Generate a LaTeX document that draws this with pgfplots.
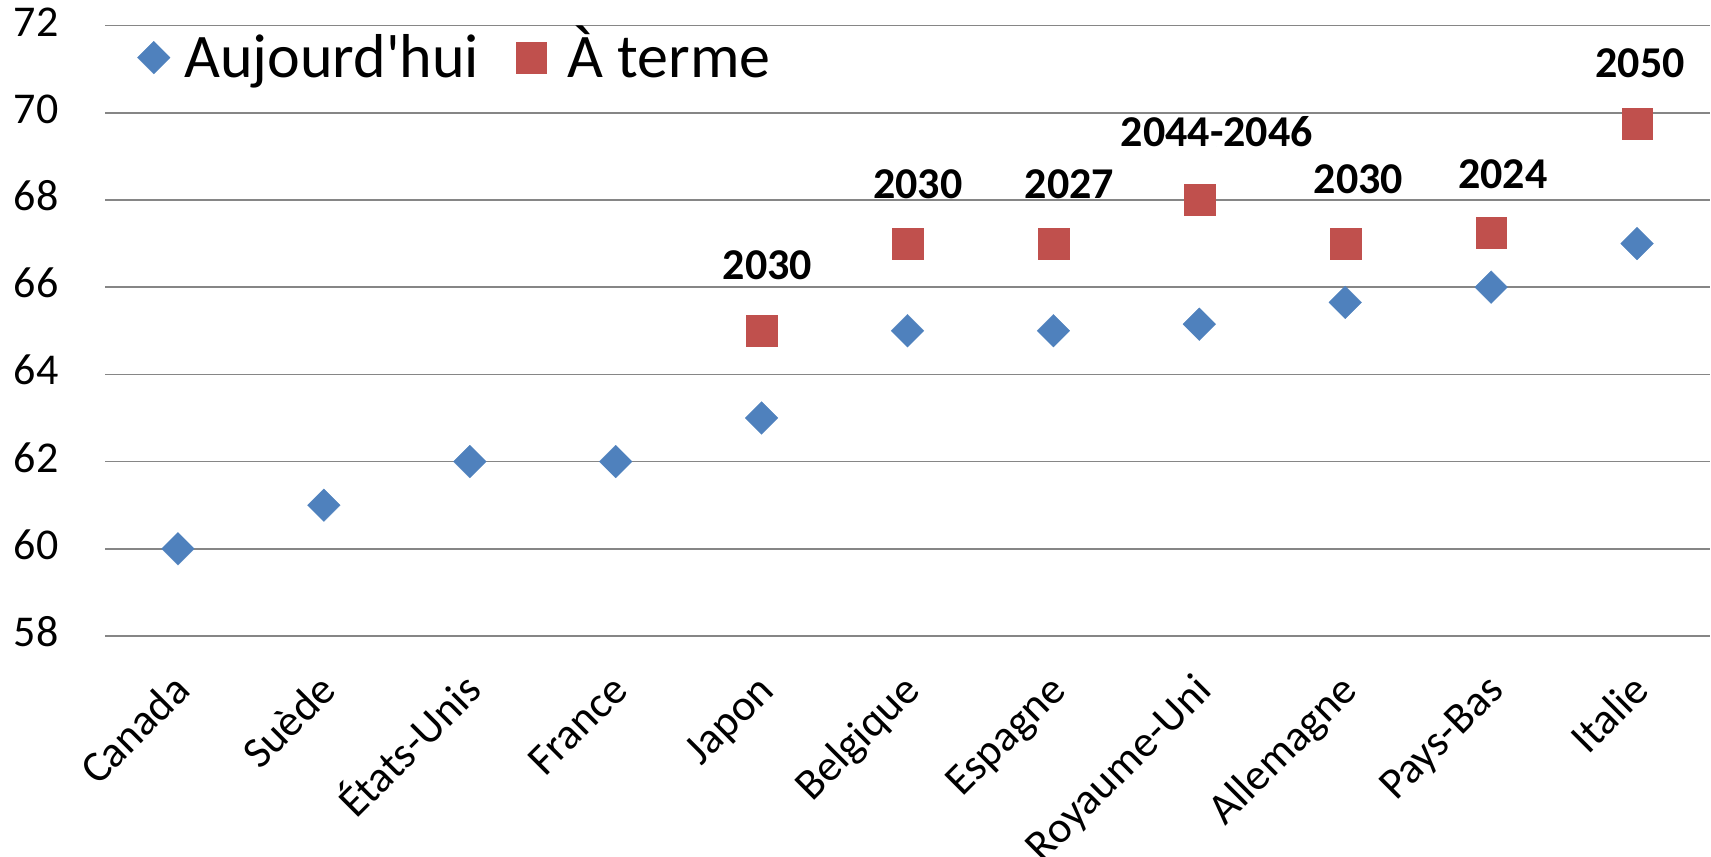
\documentclass[border=0pt]{standalone}
\usepackage{fontspec}
\setmainfont{Carlito}
\usepackage{pgfplots}
\pgfplotsset{compat=1.18}
\definecolor{cblue}{RGB}{79,129,189}
\definecolor{cred}{RGB}{192,80,77}
\definecolor{cgrid}{RGB}{134,134,134}
\pgfplotsset{
  dlegend/.style={legend image code/.code={\path (-8.25pt,7pt) (15pt,7pt); \draw[##1] plot coordinates {(0pt,7pt)};}},
  slegend/.style={legend image code/.code={\path (-7.75pt,7pt) (18pt,7pt); \draw[##1] plot coordinates {(0pt,7pt)};}},
}
\begin{document}
\begin{tikzpicture}
\begin{axis}[
  at={(0,0)}, anchor=south west,
  scale only axis, width=802.5pt, height=305.25pt,
  xmin=-0.5, xmax=10.5, ymin=58, ymax=72,
  ytick={58,60,...,72},
  xtick={0,...,10},
  xticklabels={Canada,Suède,États-Unis,France,Japon,Belgique,Espagne,Royaume-Uni,Allemagne,Pays-Bas,Italie},
  axis line style={draw=none},
  tick style={draw=none},
  major tick length=0pt,
  ymajorgrids, grid style={cgrid, line width=0.8pt},
  /pgf/number format/assume math mode=true,
  typeset ticklabels with strut,
  yticklabel style={font=\fontsize{22}{26.4}\selectfont, anchor=east, inner sep=0pt, xshift=-23pt},
  xticklabel style={font=\fontsize{22}{26.4}\selectfont, inner sep=0pt, xshift=3.5pt, yshift=-24.5pt, rotate=45, anchor=east},
  clip=false,
  legend columns=-1,
  legend style={at={(0,1)}, anchor=north west, xshift=15.75pt, yshift=-7.65pt,
    draw=none, fill=none, inner xsep=0pt, inner ysep=0pt,
    font=\fontsize{31}{37}\selectfont,
    nodes={inner sep=0pt, text height=0.76em, text depth=0.15em},
    cells={anchor=center},
    /tikz/every even column/.append style={column sep=18pt}},
]
\addplot[only marks, color=cblue, mark=square*, mark size=5.8pt,
  mark options={rotate=45, fill=cblue, draw=cblue, line width=0.1pt}, dlegend]
  coordinates {(0,60) (1,61) (2,62) (3,62) (4,63) (5,65) (6,65) (7,65.15) (8,65.65) (9,66) (10,67)};
\addlegendentry{Aujourd\textquotesingle hui}
\addplot[only marks, color=cred, mark=square*, mark size=7.7pt,
  mark options={fill=cred, draw=cred, line width=0.1pt}, slegend]
  coordinates {(4,65) (5,67) (6,67) (7,68) (8,67) (9,67.25) (10,69.75)};
\addlegendentry{À terme}
\addplot[forget plot, only marks, mark=*, mark size=0pt, mark options={draw=none, fill=none},
  nodes near coords, point meta=explicit symbolic,
  every node near coord/.append style={anchor=base, inner sep=0pt, text=black, font=\bfseries\fontsize{22}{26.4}\selectfont}]
  table[x=x, y=y, meta=lab] {
x y lab
4.04 66.18 2030
5.07 68.03 2030
6.11 68.03 2027
7.12 69.23 2044-2046
8.09 68.15 2030
9.08 68.27 2024
10.02 70.81 2050
};
\end{axis}
\pgfresetboundingbox
\path[use as bounding box] (-52.5pt,-110pt) rectangle (803pt,318pt);
\end{tikzpicture}
\end{document}
